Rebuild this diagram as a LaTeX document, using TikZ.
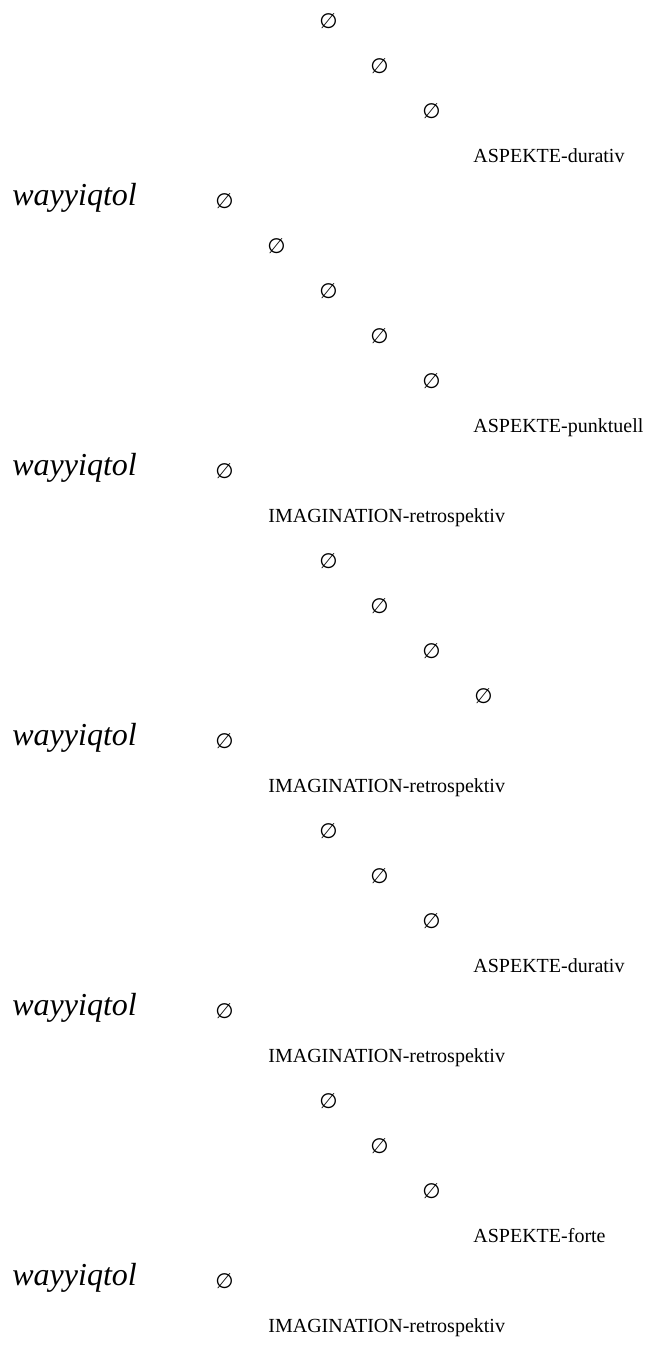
\documentclass[tikz,border=0pt]{standalone}
\usepackage{fontspec}
\setmainfont{Liberation Serif}
\newfontfamily\symfont{DejaVu Sans}
\begin{document}
\begin{tikzpicture}[x=0.5pt,y=-0.5pt,
  lbl/.style={inner sep=0pt,anchor=base west,font=\fontsize{10pt}{12pt}\selectfont},
  nul/.style={inner sep=0pt,anchor=base west,font=\fontsize{10.5pt}{12pt}\symfont},
  verb/.style={inner sep=0pt,anchor=base west,font=\fontsize{16pt}{19pt}\selectfont\itshape}]
\useasboundingbox (0,0) rectangle (649,1345);
% rows: y = 20 + 45 i ; baseline about +7
\node[nul] (n0) at (319,28) {∅};
\node[nul] (n1) at (370,73) {∅};
\node[nul] (n2) at (422,118) {∅};
\node[lbl] (a3) at (473,162) {ASPEKTE-durativ};
\node[verb] (w4) at (12,205) {wayyiqtol};
\node[nul] (n4) at (215,208) {∅};
\node[nul] (n5) at (267,253) {∅};
\node[nul] (n6) at (319,298) {∅};
\node[nul] (n7) at (370,343) {∅};
\node[nul] (n8) at (422,388) {∅};
\node[lbl] (a9) at (473,432) {ASPEKTE-punktuell};
\node[verb] (w10) at (12,475) {wayyiqtol};
\node[nul] (n10) at (215,478) {∅};
\node[lbl] (i11) at (268,522) {IMAGINATION-retrospektiv};
\node[nul] (n12) at (319,568) {∅};
\node[nul] (n13) at (370,613) {∅};
\node[nul] (n14) at (422,658) {∅};
\node[nul] (n15) at (474,703) {∅};
\node[verb] (w16) at (12,745) {wayyiqtol};
\node[nul] (n16) at (215,748) {∅};
\node[lbl] (i17) at (268,792) {IMAGINATION-retrospektiv};
\node[nul] (n18) at (319,838) {∅};
\node[nul] (n19) at (370,883) {∅};
\node[nul] (n20) at (422,928) {∅};
\node[lbl] (a21) at (473,972) {ASPEKTE-durativ};
\node[verb] (w22) at (12,1015) {wayyiqtol};
\node[nul] (n22) at (215,1018) {∅};
\node[lbl] (i23) at (268,1062) {IMAGINATION-retrospektiv};
\node[nul] (n24) at (319,1108) {∅};
\node[nul] (n25) at (370,1153) {∅};
\node[nul] (n26) at (422,1198) {∅};
\node[lbl] (a27) at (473,1242) {ASPEKTE-forte};
\node[verb] (w28) at (12,1285) {wayyiqtol};
\node[nul] (n28) at (215,1288) {∅};
\node[lbl] (i29) at (268,1332) {IMAGINATION-retrospektiv};
\end{tikzpicture}
\end{document}
